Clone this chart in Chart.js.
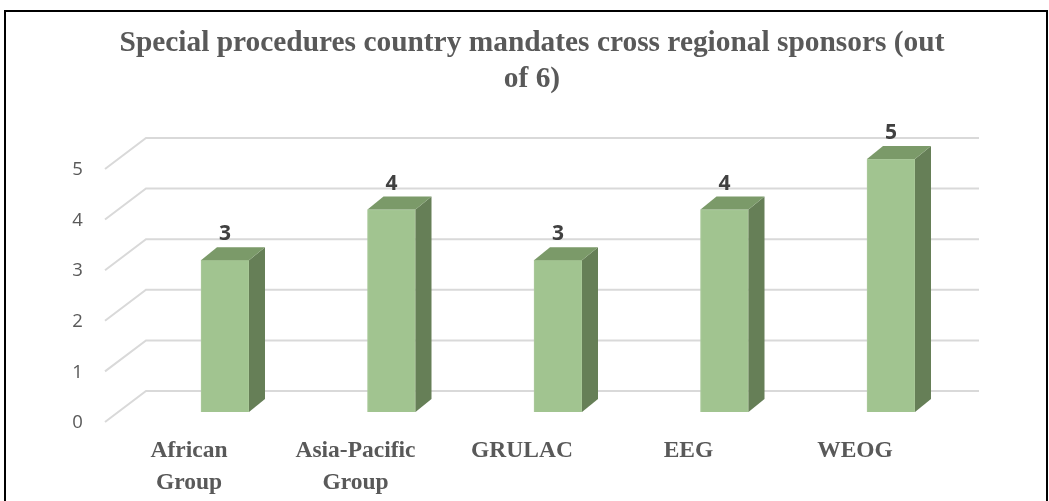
<!DOCTYPE html>
<html>
<head>
<meta charset="utf-8">
<script src="https://cdn.jsdelivr.net/npm/chart.js@4.4.1/dist/chart.umd.min.js"></script>
<style>
  html, body { margin: 0; padding: 0; background: #fff; }
  #wrap { width: 1049px; height: 501px; }
</style>
</head>
<body>
<div id="wrap"><canvas id="chart"></canvas></div>
<script>
// data
var regions = [['African', 'Group'], ['Asia-Pacific', 'Group'], 'GRULAC', 'EEG', 'WEOG'];
var sponsors = [3, 4, 3, 4, 5];
var yTicks = [0, 1, 2, 3, 4, 5];
var titleLines = ['Special procedures country mandates cross regional sponsors (out', 'of 6)'];

// 3d look: depth of the bars and of the floor
var depthX = 16, depthY = -13;

var perspective = {
    id: 'perspective',
    beforeDatasetsDraw(chart) {
        var ctx = chart.ctx, y = chart.scales.y, a = chart.chartArea;
        ctx.save();
        ctx.strokeStyle = '#d9d9d9';
        ctx.lineWidth = 2;
        yTicks.forEach(function (v) {
            var py = y.getPixelForValue(v);
            ctx.beginPath();
            ctx.moveTo(a.left - 36.75, py + 10);
            ctx.lineTo(a.left + 4.25, py - 21);
            ctx.lineTo(a.right + 4.75, py - 21);
            ctx.stroke();
        });
        ctx.restore();
    },
    afterDatasetsDraw(chart) {
        var ctx = chart.ctx;
        var meta = chart.getDatasetMeta(0);
        ctx.save();
        meta.data.forEach(function (bar, i) {
            var l = bar.x - bar.width / 2, r = bar.x + bar.width / 2;
            var t = bar.y, b = bar.base;
            // side face
            ctx.fillStyle = '#667f57';
            ctx.beginPath();
            ctx.moveTo(r, t);
            ctx.lineTo(r + depthX, t + depthY);
            ctx.lineTo(r + depthX, b + depthY);
            ctx.lineTo(r, b);
            ctx.closePath();
            ctx.fill();
            // top face
            ctx.fillStyle = '#7b9a69';
            ctx.beginPath();
            ctx.moveTo(l, t);
            ctx.lineTo(l + depthX, t + depthY);
            ctx.lineTo(r + depthX, t + depthY);
            ctx.lineTo(r, t);
            ctx.closePath();
            ctx.fill();
            // value label
            ctx.fillStyle = '#404040';
            ctx.font = 'bold 21px "Open Sans"';
            ctx.textAlign = 'center';
            ctx.textBaseline = 'middle';
            ctx.fillText(String(sponsors[i]), bar.x, t + depthY - 13);
        });
        ctx.restore();
    },
    afterDraw(chart) {
        var ctx = chart.ctx;
        ctx.save();
        ctx.strokeStyle = '#000';
        ctx.lineWidth = 2;
        ctx.strokeRect(5, 11, 1042, 600);
        ctx.restore();
    }
};

new Chart(document.getElementById('chart'), {
    type: 'bar',
    data: {
        labels: regions,
        datasets: [{
            data: sponsors,
            backgroundColor: '#a1c490',
            borderColor: '#acca9c',
            borderWidth: 1,
            barThickness: 48,
            clip: false
        }]
    },
    plugins: [perspective],
    options: {
        responsive: true,
        maintainAspectRatio: false,
        animation: false,
        layout: { padding: { left: 66, right: 51, top: 0, bottom: 0 } },
        plugins: {
            legend: { display: false },
            tooltip: { enabled: false },
            title: {
                display: true,
                text: titleLines,
                color: '#595959',
                font: { family: '"Liberation Serif"', size: 29.4, weight: 'bold', lineHeight: 1.2 },
                padding: { top: 26, bottom: 62.4 }
            }
        },
        scales: {
            x: {
                grid: { display: false, drawTicks: false },
                border: { display: false },
                ticks: {
                    color: '#595959',
                    font: { family: '"Liberation Serif"', size: 23.5, weight: 'bold', lineHeight: 1.36 },
                    padding: 23,
                    labelOffset: -36,
                    maxRotation: 0,
                    autoSkip: false
                },
                afterFit: function (s) { s.height = 89; }
            },
            y: {
                min: 0,
                max: 5,
                grid: { display: false, drawTicks: false },
                border: { display: false },
                ticks: {
                    stepSize: 1,
                    color: '#595959',
                    font: { family: '"Open Sans"', size: 18.5 },
                    padding: 59,
                    labelOffset: 11
                },
                afterFit: function (s) { s.width = 75.75; }
            },
            // empty right axis, only keeps the plot area narrower than the title
            y2: {
                position: 'right',
                grid: { display: false, drawTicks: false },
                border: { display: false },
                ticks: { display: false },
                afterFit: function (s) { s.width = 23.75; }
            }
        }
    }
});
</script>
</body>
</html>
